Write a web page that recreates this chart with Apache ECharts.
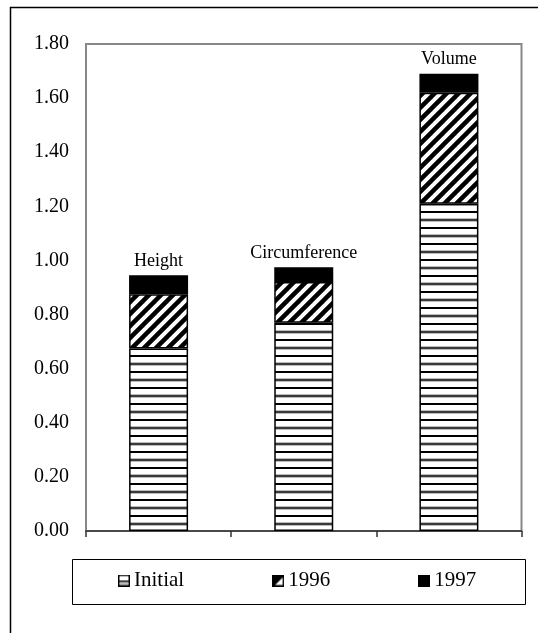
<!DOCTYPE html>
<html>
<head>
<meta charset="utf-8">
<script src="https://cdn.jsdelivr.net/npm/echarts@6/dist/echarts.min.js"></script>
<style>
  html, body { margin: 0; padding: 0; background: #fff; }
  #chart { width: 538px; height: 633px; }
</style>
</head>
<body>
<div id="chart"></div>
<script>
// Growth measures, stacked by period
const categories = ['Height', 'Circumference', 'Volume'];
const seriesNames = ['Initial', '1996', '1997'];
const initialValues = [0.675, 0.77, 1.21];
const values1996 = [0.20, 0.15, 0.41];
const values1997 = [0.07, 0.055, 0.07];
const yTicks = { min: 0, max: 1.8, step: 0.2 };

const FONT = "'Liberation Serif', 'Times New Roman', serif";

// Fill patterns
function makeCanvas(w, h) {
  const c = document.createElement('canvas');
  c.width = w; c.height = h;
  return c;
}

function horizontalStripes() {
  const c = makeCanvas(16, 16);
  const g = c.getContext('2d');
  g.fillStyle = '#fff';
  g.fillRect(0, 0, 16, 16);
  g.fillStyle = '#000';
  g.fillRect(0, 3, 16, 2);
  g.fillStyle = '#bbb';
  g.fillRect(0, 10, 16, 4);
  g.fillStyle = '#3a3a3a';
  g.fillRect(0, 11, 16, 2);
  return c;
}

function diagonalStripes() {
  const s = 12;
  const c = makeCanvas(s, s);
  const g = c.getContext('2d');
  g.fillStyle = '#fff';
  g.fillRect(0, 0, s, s);
  g.strokeStyle = '#000';
  g.lineWidth = 4.5;
  g.lineCap = 'square';
  [[-s, s, s, -s], [0, s, s, 0], [0, 2 * s, 2 * s, 0]].forEach(function (l) {
    g.beginPath();
    g.moveTo(l[0], l[1]);
    g.lineTo(l[2], l[3]);
    g.stroke();
  });
  return c;
}

// Small legend swatches
function iconInitial() {
  const c = makeCanvas(12, 12);
  const g = c.getContext('2d');
  g.fillStyle = '#fff';
  g.fillRect(0, 0, 12, 12);
  g.strokeStyle = '#000';
  g.lineWidth = 1.5;
  g.strokeRect(0.75, 0.75, 10.5, 10.5);
  g.fillStyle = '#000';
  g.fillRect(1, 6, 10, 1.5);
  g.fillStyle = '#777';
  g.fillRect(1, 8.5, 10, 1);
  return 'image://' + c.toDataURL();
}

function icon1996() {
  const c = makeCanvas(12, 12);
  const g = c.getContext('2d');
  g.fillStyle = '#000';
  g.fillRect(0, 0, 12, 12);
  g.fillStyle = '#fff';
  g.beginPath();
  g.moveTo(10.5, 3);
  g.lineTo(10.5, 10.5);
  g.lineTo(3, 10.5);
  g.closePath();
  g.fill();
  return 'image://' + c.toDataURL();
}

function icon1997() {
  const c = makeCanvas(12, 12);
  const g = c.getContext('2d');
  g.fillStyle = '#000';
  g.fillRect(0, 0, 12, 12);
  return 'image://' + c.toDataURL();
}

const fills = [
  { image: horizontalStripes(), repeat: 'repeat' },
  { image: diagonalStripes(), repeat: 'repeat' },
  '#000'
];
const icons = [iconInitial(), icon1996(), icon1997()];
const dataSets = [initialValues, values1996, values1997];

const chart = echarts.init(document.getElementById('chart'), null, { renderer: 'canvas' });

const series = dataSets.map(function (vals, i) {
  const s = {
    name: seriesNames[i],
    type: 'bar',
    stack: 'total',
    barWidth: 59,
    data: vals,
    itemStyle: { color: fills[i], borderColor: '#000', borderWidth: 1.5 },
    emphasis: { disabled: true },
    animation: false
  };
  if (i === dataSets.length - 1) {
    s.label = {
      show: true,
      position: 'top',
      distance: 5,
      formatter: function (p) { return p.name; },
      fontFamily: FONT,
      fontSize: 18,
      color: '#000'
    };
  }
  return s;
});

chart.setOption({
  animation: false,
  backgroundColor: '#fff',
  textStyle: { fontFamily: FONT },
  graphic: [{
    // outer chart frame
    type: 'rect',
    shape: { x: 10.5, y: 7.5, width: 700, height: 800 },
    style: { fill: 'none', stroke: '#000', lineWidth: 1.5 },
    silent: true,
    z: -10
  }, {
    // legend frame
    type: 'rect',
    shape: { x: 72.5, y: 559.5, width: 453, height: 45 },
    style: { fill: 'none', stroke: '#000', lineWidth: 1 },
    silent: true,
    z: -10
  }],
  grid: {
    left: 86, right: 16.5, top: 44, bottom: 102,
    show: true, borderColor: '#888', borderWidth: 2, backgroundColor: 'transparent'
  },
  legend: {
    left: 118,
    top: 570,
    padding: 0,
    itemGap: 88,
    itemWidth: 12,
    itemHeight: 12,
    itemStyle: { borderWidth: 0 },
    selectedMode: false,
    textStyle: { fontFamily: FONT, fontSize: 21, color: '#000', padding: [0, 0, 0, -1] },
    data: seriesNames.map(function (n, i) { return { name: n, icon: icons[i] }; })
  },
  xAxis: {
    type: 'category',
    data: categories,
    axisLine: { lineStyle: { color: '#333', width: 1.5 } },
    axisTick: { show: true, length: 6, lineStyle: { color: '#333', width: 1.5 } },
    axisLabel: { show: false },
    splitLine: { show: false }
  },
  yAxis: {
    type: 'value',
    min: yTicks.min,
    max: yTicks.max,
    interval: yTicks.step,
    axisLine: { show: true, lineStyle: { color: '#888', width: 2 } },
    axisTick: { show: false },
    splitLine: { show: false },
    axisLabel: {
      margin: 17,
      fontFamily: FONT,
      fontSize: 20,
      color: '#000',
      formatter: function (v) { return v.toFixed(2); }
    }
  },
  series: series
});
</script>
</body>
</html>
